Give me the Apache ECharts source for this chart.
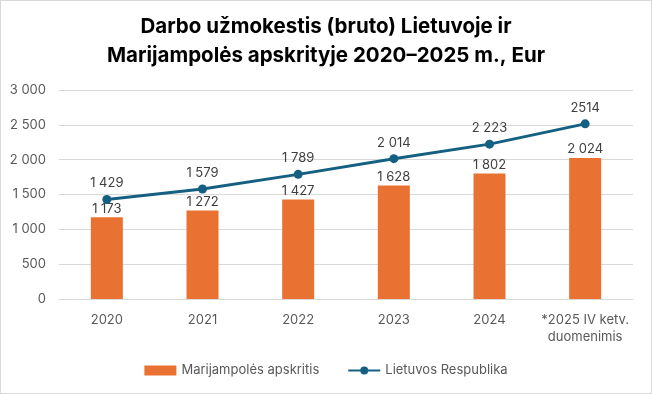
<!DOCTYPE html>
<html><head><meta charset="utf-8">
<script src="https://cdn.jsdelivr.net/npm/echarts@6/dist/echarts.min.js"></script>
<style>html,body{margin:0;padding:0;background:#fff}#c{width:652px;height:394px;box-sizing:border-box;border:1px solid #d9d9d9}</style>
</head><body><div id="c"></div>
<script>
const categories = ['2020','2021','2022','2023','2024','*2025 IV ketv.\nduomenimis'];
const marijampole = [1173,1272,1427,1628,1802,2024];
const lietuva = [1429,1579,1789,2014,2223,2514];
const lietuvaLabels = ['1 429','1 579','1 789','2 014','2 223','2514'];
const yTicks = [0,500,1000,1500,2000,2500,3000];

const fmt = v => String(v).replace(/\B(?=(\d{3})+(?!\d))/g, ' ');
const chart = echarts.init(document.getElementById('c'));
const font = 'Inter, "Open Sans", sans-serif';
chart.setOption({
  animation:false,
  title:{text:'Darbo užmokestis (bruto) Lietuvoje ir\nMarijampolės apskrityje 2020–2025 m., Eur',left:'center',top:6,
    textStyle:{fontFamily:font,fontWeight:'bold',fontSize:20.5,lineHeight:29,color:'#000'}},
  grid:{left:58,right:18,top:89,bottom:94,containLabel:false},
  legend:{bottom:11,left:'center',itemGap:28,itemWidth:32,itemHeight:10,
    textStyle:{fontFamily:font,fontSize:13,color:'#595959'},
    data:[{name:'Marijampolės apskritis',icon:'rect'},{name:'Lietuvos Respublika'}]},
  xAxis:{type:'category',data:categories,
    axisLine:{lineStyle:{color:'#d9d9d9'}},axisTick:{show:false},
    axisLabel:{interval:0,fontFamily:font,fontSize:13,color:'#595959',margin:13,lineHeight:17}},
  yAxis:{type:'value',min:0,max:3000,interval:500,
    axisLine:{show:false},axisTick:{show:false},
    splitLine:{lineStyle:{color:'#d9d9d9'}},
    axisLabel:{fontFamily:font,fontSize:13,color:'#595959',margin:13,formatter:v=>fmt(v)}},
  series:[
    {name:'Marijampolės apskritis',type:'bar',data:marijampole,barWidth:32,
      itemStyle:{color:'#E97132'},
      label:{show:true,position:'top',distance:2,fontFamily:font,fontSize:13,color:'#404040',formatter:p=>fmt(p.value)}},
    {name:'Lietuvos Respublika',type:'line',data:lietuva,symbol:'circle',symbolSize:9,
      lineStyle:{color:'#156082',width:3},itemStyle:{color:'#156082'},
      label:{show:true,position:'top',distance:5,fontFamily:font,fontSize:13,color:'#404040',formatter:p=>lietuvaLabels[p.dataIndex]}}
  ]
});
</script></body></html>
